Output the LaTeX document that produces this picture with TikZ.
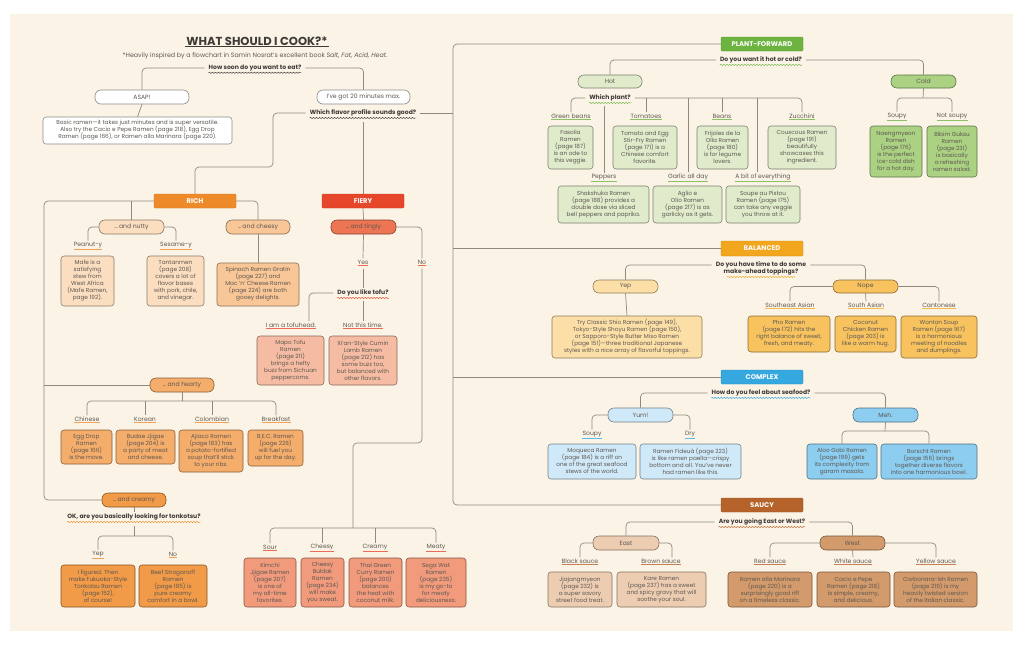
\documentclass[tikz,border=0pt]{standalone}
\usepackage{fontspec}
\setmainfont{Poppins}
\usetikzlibrary{calc,decorations.pathmorphing}
\definecolor{bg}{HTML}{FAF3E6}
\definecolor{ln}{HTML}{8F897E}
\definecolor{tx}{HTML}{5E5852}
\definecolor{qx}{HTML}{3E3A37}
\definecolor{rH}{HTML}{EF8A2B}
\definecolor{rA}{HTML}{FBDDBF}
\definecolor{rB}{HTML}{F9C797}
\definecolor{rC}{HTML}{F5AD6B}
\definecolor{rD}{HTML}{F19A48}
\definecolor{fH}{HTML}{E6462A}
\definecolor{fA}{HTML}{EE7554}
\definecolor{fB}{HTML}{F6BCA3}
\definecolor{fC}{HTML}{F19A7C}
\definecolor{pH}{HTML}{6DB33F}
\definecolor{pA}{HTML}{DFEBCB}
\definecolor{pB}{HTML}{ABD182}
\definecolor{bH}{HTML}{F2A61E}
\definecolor{bA}{HTML}{FCDFA7}
\definecolor{bB}{HTML}{F8C35F}
\definecolor{cH}{HTML}{35A8E0}
\definecolor{cA}{HTML}{D0E9F8}
\definecolor{cB}{HTML}{8CCDF0}
\definecolor{sH}{HTML}{B6622B}
\definecolor{sA}{HTML}{EDCDB2}
\definecolor{sB}{HTML}{D39A6B}
\newcommand\leaffont{\fontsize{5.75}{7}\selectfont}
\newcommand\pillfont{\fontsize{6.1}{7}\selectfont}
\newcommand\hdrfont{\fontsize{6.8}{8}\selectfont\bfseries}
\newcommand\qfont{\fontsize{6.1}{7}\selectfont\bfseries}
\newcommand\labfont{\fontsize{6.1}{7}\selectfont}
\begin{document}
\begin{tikzpicture}[x=1pt,y=-1pt,
 every node/.style={text=tx},
 ln/.style={draw=ln, line width=0.7pt, rounded corners=4pt},
 leaf/.style={draw=#1!55!black, fill=#1, rounded corners=3pt, align=center, inner sep=0.5pt, font=\leaffont, line width=0.55pt},
 pill/.style={draw=#1!55!black, fill=#1, rounded corners=6pt, minimum height=14, inner sep=0pt, font=\pillfont, line width=0.6pt},
 hdr/.style={fill=#1, draw=#1!85!black, rounded corners=1.2pt, minimum width=82, minimum height=14, inner sep=0pt, font=\hdrfont, text=white},
 q/.style={font=\qfont, text=qx, inner xsep=4pt, inner ysep=1.5pt, align=center},
 lab/.style={font=\labfont, inner xsep=0pt, inner ysep=1.2pt}]
\fill[white] (0,0) rectangle (1032,656);
\fill[bg] (10,14) rectangle (1013,631);
\useasboundingbox (0,0) rectangle (1032,656);
% top
\node[font=\fontsize{11.6}{13}\selectfont\bfseries, text=qx, inner sep=1pt] (title) at (257,41) {WHAT SHOULD I COOK?*};
\draw[qx, line width=0.8pt] (title.south west) -- (title.south east);
\node[font=\fontsize{6.3}{7}\selectfont, inner sep=0pt] (sub) at (255,56) {*Heavily inspired by a flowchart in Samin Nosrat's excellent book \textit{Salt, Fat, Acid, Heat}.};
\node[q] (q1) at (255,68) {How soon do you want to eat?};
\node[pill=white, minimum width=94] (asap) at (142,97) {ASAP!};
\node[leaf=white, minimum width=189, minimum height=27] (basic) at (137.5,130.5) {Basic ramen—it takes just minutes and is super versatile.\\Also try the Cacio e Pepe Ramen (page 218), Egg Drop\\Ramen (page 166), or Ramen alla Marinara (page 220).};
\node[pill=white, minimum width=93] (twenty) at (363.5,97) {I've got 20 minutes max.};
\node[q] (q2) at (363,113) {Which flavor profile sounds good?};
% headers
\node[hdr=rH] (rich) at (195,201) {RICH};
\node[hdr=fH] (fiery) at (363,201) {FIERY};
\node[hdr=pH] (plant) at (762,44) {PLANT-FORWARD};
\node[hdr=bH, minimum height=15] (bal) at (762,248.5) {BALANCED};
\node[hdr=cH] (cx) at (762,377) {COMPLEX};
\node[hdr=sH] (sc) at (762,505) {SAUCY};
% rich
\node[pill=rA, minimum width=65] (nutty) at (131.5,227) {…\,and nutty};
\node[pill=rB, minimum width=64] (cheesy) at (258,227) {…\,and cheesy};
\node[lab] (peanut) at (88,245) {Peanut-y};
\node[lab] (sesame) at (176,245) {Sesame-y};
\node[leaf=rA, minimum width=53, minimum height=50] (mafe) at (87.5,281) {Mafe is a\\satisfying\\stew from\\West Africa\\(Mafe Ramen,\\page 192).};
\node[leaf=rA, minimum width=57, minimum height=50] (tantan) at (175.5,281) {Tantanmen\\(page 208)\\covers a lot of\\flavor bases\\with pork, chile,\\and vinegar.};
\node[leaf=rB, minimum width=82, minimum height=43] (spinach) at (258,284.5) {Spinach Ramen Gratin\\(page 227) and\\Mac 'n' Cheese Ramen\\(page 224) are both\\gooey delights.};
\node[pill=rC, minimum width=64] (heavy) at (182,385) {…\,and hearty};
\node[lab] (chinese) at (87,419) {Chinese};
\node[lab] (korean) at (145,419) {Korean};
\node[lab] (colomb) at (212,419) {Colombian};
\node[lab] (breakf) at (276,419) {Breakfast};
\node[leaf=rC, minimum width=51, minimum height=34] (egg) at (86.5,447) {Egg Drop\\Ramen\\(page 166)\\is the move.};
\node[leaf=rC, minimum width=59, minimum height=34] (budae) at (145.5,447) {Budae Jjigae\\(page 204) is\\a party of meat\\and cheese.};
\node[leaf=rC, minimum width=64, minimum height=42] (ajiaco) at (211,451) {Ajiaco Ramen\\(page 183) has\\a potato-fortified\\soup that'll stick\\to your ribs.};
\node[leaf=rC, minimum width=55, minimum height=36] (bec) at (275.5,448) {B.E.C. Ramen\\(page 228)\\will fuel you\\up for the day.};
\node[pill=rD, minimum width=64] (creamy) at (134,500) {…\,and creamy};
\node[q] (qt) at (134,517) {OK, are you basically looking for tonkotsu?};
\node[lab] (yep1) at (98,554) {Yep};
\node[lab] (no1) at (173,554) {No};
\node[leaf=rD, minimum width=74, minimum height=42] (tonk) at (98,586) {I figured. Then\\make Fukuoka-Style\\Tonkotsu Ramen\\(page 152),\\of course!};
\node[leaf=rD, minimum width=68, minimum height=42] (strog) at (173,586) {Beef Stroganoff\\Ramen\\(page 195) is\\pure creamy\\comfort in a bowl.};
% fiery
\node[pill=fA, minimum width=65] (tingly) at (363.5,227) {…\,and tingly};
\node[lab] (yes) at (363,262) {Yes};
\node[lab] (nof) at (422,262) {No};
\node[q] (qtofu) at (363,293) {Do you like tofu?};
\node[lab] (tofuhead) at (291,325) {I am a tofuhead.};
\node[lab] (notthis) at (363,325) {Not this time.};
\node[leaf=fB, minimum width=67, minimum height=49] (mapo) at (290.5,360.5) {Mapo Tofu\\Ramen\\(page 211)\\brings a hefty\\buzz from Sichuan\\peppercorns.};
\node[leaf=fB, minimum width=68, minimum height=49] (xian) at (363,360.5) {Xi'an-Style Cumin\\Lamb Ramen\\(page 212) has\\some buzz too,\\but balanced with\\other flavors.};
\node[lab] (sour) at (270,547) {Sour};
\node[lab] (cheesy2) at (322,547) {Cheesy};
\node[lab] (creamy2) at (375,547) {Creamy};
\node[lab] (meaty) at (436,547) {Meaty};
\node[leaf=fC, minimum width=52, minimum height=49] (kimchi) at (270,582.5) {Kimchi\\Jjigae Ramen\\(page 207)\\is one of\\my all-time\\favorites.};
\node[leaf=fC, minimum width=43, minimum height=49] (buldak) at (322.5,582.5) {Cheesy\\Buldak\\Ramen\\(page 234)\\will make\\you sweat.};
\node[leaf=fC, minimum width=53, minimum height=49] (thai) at (375.5,582.5) {Thai Green\\Curry Ramen\\(page 200)\\balances\\the heat with\\coconut milk.};
\node[leaf=fC, minimum width=60, minimum height=49] (sega) at (436,582.5) {Sega Wat\\Ramen\\(page 235)\\is my go-to\\for meaty\\deliciousness.};
% plant
\node[q] (qp) at (761,60) {Do you want it hot or cold?};
\node[pill=pA, minimum width=64, minimum height=13] (hot) at (610,81.5) {Hot};
\node[pill=pB, minimum width=65, minimum height=13] (cold) at (923.5,81.5) {Cold};
\node[q] (qwp) at (610,98) {Which plant?};
\node[lab] (gbeans) at (571,116) {Green beans};
\node[lab] (tomat) at (646,116) {Tomatoes};
\node[lab] (beans) at (722,116) {Beans};
\node[lab] (zucc) at (802,116) {Zucchini};
\node[lab] (pepp) at (604,177) {Peppers};
\node[lab] (garlic) at (688,177) {Garlic all day};
\node[lab] (abit) at (763,177) {A bit of everything};
\node[lab] (soupy1) at (897,116) {Soupy};
\node[lab] (notsoupy) at (952,116) {Not soupy};
\node[leaf=pA, minimum width=45, minimum height=43] (fasolia) at (570.5,147.5) {Fasolia\\Ramen\\(page 187)\\is an ode to\\this veggie.};
\node[leaf=pA, minimum width=64, minimum height=43] (tomato) at (645,147.5) {Tomato and Egg\\Stir-Fry Ramen\\(page 171) is a\\Chinese comfort\\favorite.};
\node[leaf=pA, minimum width=51, minimum height=43] (frijoles) at (722.5,147.5) {Frijoles de la\\Olla Ramen\\(page 180)\\is for legume\\lovers.};
\node[leaf=pA, minimum width=68, minimum height=43] (cous) at (802,147.5) {Couscous Ramen\\(page 191)\\beautifully\\showcases this\\ingredient.};
\node[leaf=pA, minimum width=91, minimum height=37] (shak) at (603.5,204.5) {Shakshuka Ramen\\(page 188) provides a\\double dose via sliced\\bell peppers and paprika.};
\node[leaf=pA, minimum width=69, minimum height=37] (aglio) at (687.5,204.5) {Aglio e\\Olio Ramen\\(page 217) is as\\garlicky as it gets.};
\node[leaf=pA, minimum width=74, minimum height=37] (soupe) at (763,204.5) {Soupe au Pistou\\Ramen (page 175)\\can take any veggie\\you throw at it.};
\node[leaf=pB, minimum width=52, minimum height=51] (naeng) at (896,151.5) {Naengmyeon\\Ramen\\(page 176)\\is the perfect\\ice-cold dish\\for a hot day.};
\node[leaf=pB, minimum width=50, minimum height=51] (bibim) at (952,151.5) {Bibim Guksu\\Ramen\\(page 231)\\is basically\\a refreshing\\ramen salad.};
% balanced
\node[q] (qb) at (761,268.5) {Do you have time to do some\\make-ahead toppings?};
\node[pill=bA, minimum width=65, minimum height=13] (yep) at (625.5,286.5) {Yep};
\node[pill=bB, minimum width=65, minimum height=13] (nope) at (865.5,286.5) {Nope};
\node[leaf=bA, minimum width=150, minimum height=42] (yepbox) at (627,337) {Try Classic Shio Ramen (page 149),\\Tokyo-Style Shoyu Ramen (page 150),\\or Sapporo-Style Butter Miso Ramen\\(page 151)—three traditional Japanese\\styles with a nice array of flavorful toppings.};
\node[lab] (sea) at (790,305) {Southeast Asian};
\node[lab] (sasian) at (866,305) {South Asian};
\node[lab] (canton) at (939,305) {Cantonese};
\node[leaf=bB, minimum width=82, minimum height=36] (pho) at (789,334) {Pho Ramen\\(page 172) hits the\\right balance of sweet,\\fresh, and meaty.};
\node[leaf=bB, minimum width=61, minimum height=36] (coco) at (865.5,334) {Coconut\\Chicken Ramen\\(page 203) is\\like a warm hug.};
\node[leaf=bB, minimum width=76, minimum height=42] (wonton) at (939,337) {Wonton Soup\\Ramen (page 167)\\is a harmonious\\meeting of noodles\\and dumplings.};
% complex
\node[q] (qc) at (761,393) {How do you feel about seafood?};
\node[pill=cA, minimum width=65] (yum) at (640.5,415) {Yum!};
\node[pill=cB, minimum width=65] (meh) at (885.5,415) {Meh.};
\node[lab] (soupy2) at (592,434) {Soupy};
\node[lab] (dry) at (690,434) {Dry};
\node[leaf=cA, minimum width=88, minimum height=35] (moq) at (592,461.5) {Moqueca Ramen\\(page 184) is a riff on\\one of the great seafood\\stews of the world.};
\node[leaf=cA, minimum width=101, minimum height=35] (fid) at (690.5,461.5) {Ramen Fideuà (page 223)\\is like ramen paella—crispy\\bottom and all. You've never\\had ramen like this.};
\node[leaf=cB, minimum width=70, minimum height=35] (aloo) at (842,461.5) {Aloo Gobi Ramen\\(page 199) gets\\its complexity from\\garam masala.};
\node[leaf=cB, minimum width=96, minimum height=35] (borscht) at (929,461.5) {Borscht Ramen\\(page 156) brings\\together diverse flavors\\into one harmonious bowl.};
% saucy
\node[q] (qs) at (762,522) {Are you going East or West?};
\node[pill=sA, minimum width=66] (east) at (626,543) {East};
\node[pill=sB, minimum width=65] (west) at (852.5,543) {West};
\node[lab] (black) at (580,561) {Black sauce};
\node[lab] (brown) at (661,561) {Brown sauce};
\node[lab] (red) at (770,561) {Red sauce};
\node[lab] (whites) at (853,561) {White sauce};
\node[lab] (yellow) at (936,561) {Yellow sauce};
\node[leaf=sA, minimum width=64, minimum height=35] (jja) at (580,589.5) {Jjajangmyeon\\(page 232) is\\a super savory\\street food treat.};
\node[leaf=sA, minimum width=89, minimum height=35] (kare) at (661.5,589.5) {Kare Ramen\\(page 237) has a sweet\\and spicy gravy that will\\soothe your soul.};
\node[leaf=sB, minimum width=84, minimum height=35] (mari) at (770,589.5) {Ramen alla Marinara\\(page 220) is a\\surprisingly good riff\\on a timeless classic.};
\node[leaf=sB, minimum width=73, minimum height=35] (cacio) at (853.5,589.5) {Cacio e Pepe\\Ramen (page 218)\\is simple, creamy,\\and delicious.};
\node[leaf=sB, minimum width=83, minimum height=35] (carb) at (935.5,589.5) {Carbonara-ish Ramen\\(page 219) is my\\heavily twisted version\\of the Italian classic.};
% ---------------- connectors
\draw[ln] (q1.west) -| (asap.north);
\draw[ln] (q1.east) -| (twenty.north);
\draw[ln] (asap.south) -- (basic.north);
\coordinate (k1) at (273,167);
\draw[ln] (q2.west) -| (k1) -| (rich.north);
\coordinate (q2b) at ($(q2.south)+(0,4)$);
\draw[ln] (q2b) -- (fiery.north);
\coordinate (tb) at (453,505);
\draw[ln] (plant.west) -| (tb) -- (sc.west);
\draw[ln] (q2.east) -- (q2.east -| tb);
\draw[ln] (bal.west) -- (bal.west -| tb);
\draw[ln] (cx.west) -- (cx.west -| tb);
% rich
\coordinate (lb) at (44,500);
\draw[ln] (rich.west) -| (lb) -- (creamy.west);
\draw[ln] (nutty.north) -- (nutty.north |- rich.west);
\draw[ln] (rich.east) -| (cheesy.north);
\draw[ln] (heavy.west) -- (heavy.west -| lb);
\draw[ln] (nutty.west) -| (peanut.north);
\draw[ln] (nutty.east) -| (sesame.north);
\draw[ln] (cheesy.south) -- (spinach.north);
\coordinate (hj) at (182,401);
\draw[ln] (heavy.south) -- (hj);
\draw[ln] (chinese.north) |- (hj) -| (breakf.north);
\draw[ln] (korean.north) -- (korean.north |- hj);
\draw[ln] (colomb.north) -- (colomb.north |- hj);
\draw[ln] (creamy.south) -- (qt.north);
\coordinate (tj) at (134,536);
\coordinate (qtb) at ($(qt.south)+(0,4)$);
\draw[ln] (qtb) -- (tj);
\draw[ln] (yep1.north) |- (tj) -| (no1.north);
% fiery
\draw[ln] (fiery.south) -- (tingly.north);
\draw[ln] (tingly.south) -- (yes.north);
\draw[ln] (tingly.east) -| (nof.north);
\coordinate (yesb) at ($(yes.south)+(0,3)$);
\draw[ln] (yesb) -- (qtofu.north);
\coordinate (tofx) at (309,0);
\draw[ln] (qtofu.west) -| (tofuhead.north -| tofx);
\coordinate (qtofub) at ($(qtofu.south)+(0,3)$);
\draw[ln] (qtofub) -- (notthis.north);
\coordinate (nb) at (353,443);
\coordinate (nj) at (353,528);
\coordinate (nofb) at ($(nof.south)+(0,3)$);
\draw[ln] (nofb) |- (nb) -- (nj);
\draw[ln] (sour.north) |- (nj) -| (meaty.north);
\draw[ln] (cheesy2.north) -- (cheesy2.north |- nj);
\draw[ln] (creamy2.north) -- (creamy2.north |- nj);
% plant
\draw[ln] (qp.west) -| (hot.north);
\draw[ln] (qp.east) -| (cold.north);
\draw[ln] (qwp.west) -| (gbeans.north);
\draw[ln] (qwp.east) -| (zucc.north);
\draw[ln] (tomat.north) -- (tomat.north |- qwp.east);
\draw[ln] (beans.north) -- (beans.north |- qwp.east);
\draw[ln] (garlic.north) -- (garlic.north |- qwp.east);
\coordinate (abx) at (757,0);
\draw[ln] (abit.north -| abx) -- (abx |- qwp.east);
\coordinate (qwpb) at ($(qwp.south)+(0,3)$);
\draw[ln] (pepp.north) -- (pepp.north |- qwpb);
\coordinate (cj) at (923,98);
\draw[ln] (cold.south) -- (cj);
\draw[ln] (soupy1.north) |- (cj) -| (notsoupy.north);
% balanced
\coordinate (qbw) at ($(qb.west)+(0,-3.5)$);
\coordinate (qbe) at ($(qb.east)+(0,-3.5)$);
\draw[ln] (qbw) -| (yep.north);
\draw[ln] (qbe) -| (nope.north);
\draw[ln] (yep.south) -- (yepbox.north);
\draw[ln] (nope.west) -| (sea.north);
\draw[ln] (nope.east) -| (canton.north);
\draw[ln] (nope.south) -- (sasian.north);
% complex
\draw[ln] (qc.west) -| (yum.north);
\draw[ln] (qc.east) -| (meh.north);
\draw[ln] (yum.west) -| (soupy2.north);
\draw[ln] (yum.east) -| (dry.north);
\coordinate (mj) at (885,431);
\draw[ln] (meh.south) -- (mj);
\draw[ln] (aloo.north) |- (mj) -| (borscht.north);
% saucy
\draw[ln] (qs.west) -| (east.north);
\draw[ln] (qs.east) -| (west.north);
\draw[ln] (east.west) -| (black.north);
\coordinate (brx) at (672,0);
\draw[ln] (east.east) -| (brown.north -| brx);
\draw[ln] (west.west) -| (red.north);
\draw[ln] (west.south) -- (whites.north);
\draw[ln] (west.east) -| (yellow.north);
% label underlines
\foreach \n/\c in {peanut/rH, sesame/rH, chinese/rH, korean/rH, colomb/rH, breakf/rH, yep1/rH, no1/rH,
  yes/fH, nof/fH, tofuhead/fH, notthis/fH, sour/fH, cheesy2/fH, creamy2/fH, meaty/fH,
  gbeans/pH, tomat/pH, beans/pH, zucc/pH, pepp/pH, garlic/pH, abit/pH, soupy1/pH, notsoupy/pH,
  sea/bH, sasian/bH, canton/bH, soupy2/cH, dry/cH,
  black/sH, brown/sH, red/sH, whites/sH, yellow/sH}
  \draw[\c!80, line width=0.7pt] (\n.south west) -- (\n.south east);
% wavy underlines
\foreach \n/\c in {q1/qx, q2/qx, qt/rH, qtofu/fH, qp/pH, qwp/pH, qc/cH, qs/sH}
  \draw[\c, line width=0.45pt, decorate, decoration={snake,segment length=3pt,amplitude=0.6pt}]
    ($(\n.south west)+(4,0)$) -- ($(\n.south east)+(-4,0)$);
\draw[bH, line width=0.45pt, decorate, decoration={snake,segment length=3pt,amplitude=0.6pt}]
    ($(qb.south)+(-34,0)$) -- ($(qb.south)+(34,0)$);
\end{tikzpicture}
\end{document}
